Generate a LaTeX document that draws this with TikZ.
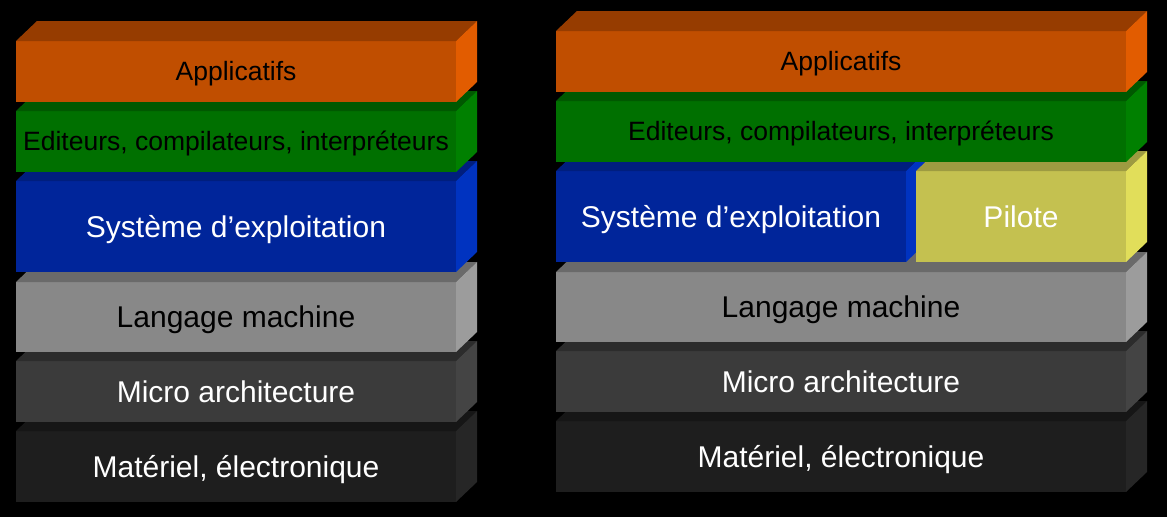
\documentclass[tikz,border=0pt]{standalone}
\usepackage{fontspec}
\setmainfont{Liberation Sans}
\definecolor{orangeF}{HTML}{C04E00}
\definecolor{orangeT}{HTML}{963C00}
\definecolor{orangeS}{HTML}{E25C00}
\definecolor{greenF}{HTML}{007000}
\definecolor{greenT}{HTML}{005800}
\definecolor{greenS}{HTML}{008000}
\definecolor{blueF}{HTML}{00259A}
\definecolor{blueT}{HTML}{001E7E}
\definecolor{blueS}{HTML}{0033C0}
\definecolor{yellowF}{HTML}{C4C150}
\definecolor{yellowT}{HTML}{9D9B41}
\definecolor{yellowS}{HTML}{E1DE5A}
\definecolor{grayF}{HTML}{888888}
\definecolor{grayT}{HTML}{6A6A6A}
\definecolor{grayS}{HTML}{9C9C9C}
\definecolor{darkF}{HTML}{3B3B3B}
\definecolor{darkT}{HTML}{2C2C2C}
\definecolor{darkS}{HTML}{444444}
\definecolor{blackF}{HTML}{1E1E1E}
\definecolor{blackT}{HTML}{161616}
\definecolor{blackS}{HTML}{262626}
\tikzset{
  slabnode/.style={rectangle, inner sep=0pt, outer sep=0pt, align=center},
}
% \slab{name}{x}{y}{w}{h}{family}{text colour}{font size}{text}
\newcommand\slab[9]{%
  \node[slabnode, fill=#6F, minimum width=#4pt, minimum height=#5pt, text=#7,
        font=\fontsize{#8}{#8}\selectfont, text height=0.716*#8pt, text depth=0pt]
        (#1) at ({#2+#4/2}, {#3+#5/2}) {#9};
  \fill[#6T] (#1.north west) -- ++(21pt,20pt) -- ([shift={(21pt,20pt)}]#1.north east) -- (#1.north east) -- cycle;
  \fill[#6S] (#1.north east) -- ++(21pt,20pt) -- ([shift={(21pt,20pt)}]#1.south east) -- (#1.south east) -- cycle;
}
\begin{document}
\begin{tikzpicture}[x=1pt,y=-1pt]
\fill[black] (0,0) rectangle (1167,517);
\useasboundingbox (0,0) rectangle (1167,517);
% left stack
\slab{lmat}{16}{431}{440}{71}{black}{white}{30}{Matériel, électronique}
\slab{lmic}{16}{361}{440}{61}{dark}{white}{30}{Micro architecture}
\slab{llan}{16}{282}{440}{70}{gray}{black}{30}{Langage machine}
\slab{lsys}{16}{181}{440}{91}{blue}{white}{30}{Système d’exploitation}
\slab{ledi}{16}{111}{440}{61}{green}{black}{26.5}{Editeurs, compilateurs, interpréteurs}
\slab{lapp}{16}{41}{440}{61}{orange}{black}{26.5}{Applicatifs}
% right stack
\slab{rmat}{556}{421}{570}{71}{black}{white}{30}{Matériel, électronique}
\slab{rmic}{556}{351}{570}{61}{dark}{white}{30}{Micro architecture}
\slab{rlan}{556}{272}{570}{70}{gray}{black}{30}{Langage machine}
\slab{rsys}{556}{171}{350}{91}{blue}{white}{30}{Système d’exploitation}
\slab{rpil}{916}{171}{210}{91}{yellow}{white}{30}{Pilote}
\slab{redi}{556}{101}{570}{61}{green}{black}{26.5}{Editeurs, compilateurs, interpréteurs}
\slab{rapp}{556}{31}{570}{61}{orange}{black}{26.5}{Applicatifs}
\end{tikzpicture}
\end{document}
